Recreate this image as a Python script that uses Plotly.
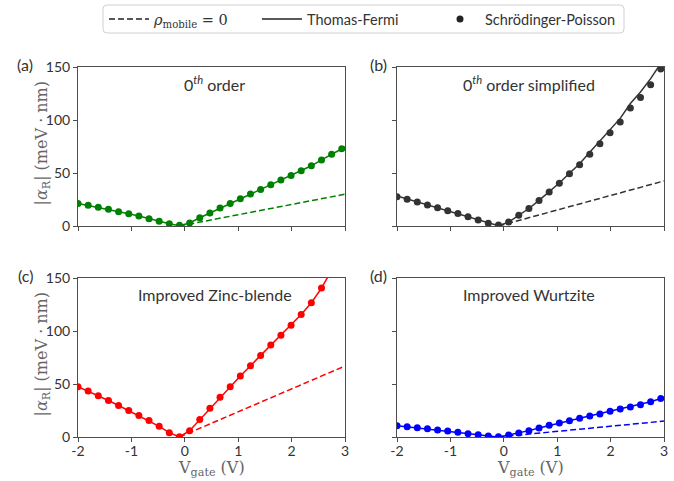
import plotly.graph_objects as go

# Gate voltages at which the Schrödinger-Poisson solutions were sampled (V)
V_GATE = [-2.00, -1.81, -1.62, -1.43, -1.24, -1.05, -0.86, -0.67, -0.48, -0.29,
          -0.10, 0.09, 0.28, 0.47, 0.66, 0.85, 1.04, 1.23, 1.42, 1.61,
          1.80, 1.99, 2.18, 2.37, 2.56, 2.75, 2.94]
V_END = 3.0

# |alpha_R| (meV nm), Schrödinger-Poisson
SP_A = [21.3, 19.5, 17.6, 15.7, 13.5, 11.6, 9.4, 6.9, 4.4, 2.2,
        0.6, 2.8, 7.8, 12.2, 16.9, 21.3, 25.7, 30.1, 34.5, 38.9,
        43.3, 47.7, 52.1, 56.8, 62.3, 67.6, 72.8]
SP_B = [27.7, 25.2, 22.7, 19.9, 17.3, 14.5, 11.7, 8.8, 5.7, 2.5,
        1.0, 3.8, 10.1, 16.4, 24.0, 32.1, 40.3, 49.2, 57.7, 67.8,
        77.5, 87.9, 98.0, 111.3, 121.3, 133.3, 148.1]
SP_C = [47.4, 43.3, 38.8, 34.4, 29.7, 24.9, 20.2, 15.5, 10.1, 4.1,
        0.3, 6.0, 16.4, 27.2, 37.6, 47.4, 57.5, 67.3, 77.0, 86.8,
        96.0, 105.5, 115.6, 126.6, 140.5]
SP_D = [10.7, 9.7, 8.8, 7.8, 6.6, 5.6, 4.4, 3.1, 2.2, 0.9,
        0.3, 1.9, 3.8, 6.0, 8.5, 11.0, 13.2, 15.4, 17.6, 19.8,
        21.7, 24.2, 26.4, 28.2, 30.4, 33.3, 36.4]

# |alpha_R| (meV nm), Thomas-Fermi (on V_GATE, last value at V_END)
TF_A = [21.3, 19.5, 17.6, 15.7, 13.5, 11.6, 9.4, 6.9, 4.4, 2.2,
        0.2, 2.8, 7.8, 12.2, 16.9, 21.3, 25.7, 30.1, 34.5, 38.9,
        43.3, 47.7, 52.1, 56.8, 62.3, 67.6, 72.8, 74.5]
TF_B = [28.3, 25.5, 22.9, 20.1, 17.4, 14.6, 11.8, 8.9, 5.9, 2.9,
        0.3, 3.6, 10.0, 16.5, 24.2, 32.3, 40.6, 49.7, 58.8, 69.5,
        80.0, 91.0, 101.5, 115.5, 126.5, 139.0, 153.5, 158.0]
TF_C = [47.4, 43.3, 38.8, 34.4, 29.7, 24.9, 20.2, 15.5, 10.1, 4.1,
        0.0, 6.0, 16.4, 27.2, 37.6, 47.4, 57.5, 67.3, 77.0, 86.8,
        96.0, 105.5, 115.6, 126.6, 140.5, 157.5]
TF_D = [10.7, 9.7, 8.8, 7.8, 6.6, 5.6, 4.4, 3.1, 2.2, 0.9,
        0.1, 1.9, 3.8, 6.0, 8.5, 11.0, 13.2, 15.4, 17.6, 19.8,
        21.7, 24.2, 26.4, 28.2, 30.4, 33.3, 36.4, 37.5]

# rho_mobile = 0: straight line from the minimum to V_END
V_NOMOB = [-0.10, 3.0]
NOMOB_A = [0.0, 30.0]
NOMOB_B = [0.0, 42.5]
NOMOB_C = [0.0, 67.0]
NOMOB_D = [0.0, 15.0]

PANELS = [
    dict(tag="(a)", title="0<sup><i>th</i></sup> order", color="#008000",
         sp=SP_A, tf=TF_A, nm=NOMOB_A),
    dict(tag="(b)", title="0<sup><i>th</i></sup> order simplified", color="#333333",
         sp=SP_B, tf=TF_B, nm=NOMOB_B),
    dict(tag="(c)", title="Improved Zinc-blende", color="#ff0000",
         sp=SP_C, tf=TF_C, nm=NOMOB_C),
    dict(tag="(d)", title="Improved Wurtzite", color="#0000ff",
         sp=SP_D, tf=TF_D, nm=NOMOB_D),
]

X_TICKS = [-2, -1, 0, 1, 2, 3]
X_TICKTEXT = ["-2", "-1", "0", "1", "2", "3"]
Y_TICKS = [0, 50, 100, 150]

W, H = 674, 481
ML, MR, MT, MB = 78, 10, 67, 44
PW, PH = W - ML - MR, H - MT - MB


def px(x):
    return (x - ML) / PW


def py(y):
    return (H - MB - y) / PH


SANS = "Lato"
SERIF = "DejaVu Serif"
TXT = "#333333"
AX = "#4d4d4d"
DASH = "6px,3px"

# panel boxes in pixels: (left, right, top, bottom)
BOXES = [(78, 345, 67, 226), (397, 664, 67, 226),
         (78, 345, 278, 437), (397, 664, 278, 437)]


def label(fig, x, y, text, font, angle=0):
    fig.add_annotation(x=px(x), y=py(y), xref="paper", yref="paper",
                       xanchor="center", yanchor="middle", text=text,
                       textangle=angle, showarrow=False, font=font)


fig = go.Figure()
for i, (p, box) in enumerate(zip(PANELS, BOXES)):
    xa = "x" if i == 0 else f"x{i + 1}"
    ya = "y" if i == 0 else f"y{i + 1}"
    v_line = (V_GATE + [V_END])[:len(p["tf"])]
    fig.add_trace(go.Scatter(x=V_NOMOB, y=p["nm"], mode="lines", xaxis=xa, yaxis=ya,
                             line=dict(color=p["color"], width=1.5, dash=DASH),
                             showlegend=False, hoverinfo="skip"))
    fig.add_trace(go.Scatter(x=v_line, y=p["tf"], mode="lines", xaxis=xa, yaxis=ya,
                             line=dict(color=p["color"], width=1.5),
                             showlegend=False))
    fig.add_trace(go.Scatter(x=V_GATE[:len(p["sp"])], y=p["sp"], mode="markers",
                             xaxis=xa, yaxis=ya,
                             marker=dict(color=p["color"], size=7, line=dict(width=0)),
                             showlegend=False))

    l, r, t, b = box
    axis_common = dict(showline=True, mirror=True, linecolor=AX, linewidth=1,
                       ticks="outside", ticklen=4, tickcolor=AX, tickwidth=1,
                       showgrid=False, zeroline=False, automargin=False,
                       tickfont=dict(family=SANS, size=14, color=TXT))
    fig.layout[f"xaxis{'' if i == 0 else i + 1}"] = dict(
        domain=[px(l), px(r)], range=[-2, 3], anchor=ya,
        tickvals=X_TICKS, ticktext=X_TICKTEXT, showticklabels=(i >= 2),
        ticklabelstandoff=-3, **axis_common)
    fig.layout[f"yaxis{'' if i == 0 else i + 1}"] = dict(
        domain=[py(b), py(t)], range=[0, 150], anchor=xa,
        tickvals=Y_TICKS, showticklabels=(i % 2 == 0),
        **axis_common)

    left_col = (i % 2 == 0)
    label(fig, (l + r) / 2 + (3 if left_col else -2), t + 16, p["title"],
          dict(family=SANS, size=16, color=TXT))
    label(fig, l - (53 if left_col else 19), t - 3, p["tag"],
          dict(family=SANS, size=16, color=TXT))
    if left_col:
        label(fig, 42, (t + b) / 2 - 3, "|<i>α</i><sub>R</sub>| (meV · nm)",
              dict(family=SERIF, size=16, color="#666666"), angle=-90)
    if i >= 2:
        label(fig, (l + r) / 2, 468, "V<sub>gate</sub> (V)",
              dict(family=SERIF, size=16, color="#666666"))

# legend frame with rounded corners
BX0, BX1, BY0, BY1, RAD = 103, 624, 5, 33, 4
frame = (f"M {px(BX0 + RAD)} {py(BY0)} L {px(BX1 - RAD)} {py(BY0)} "
         f"Q {px(BX1)} {py(BY0)} {px(BX1)} {py(BY0 + RAD)} "
         f"L {px(BX1)} {py(BY1 - RAD)} "
         f"Q {px(BX1)} {py(BY1)} {px(BX1 - RAD)} {py(BY1)} "
         f"L {px(BX0 + RAD)} {py(BY1)} "
         f"Q {px(BX0)} {py(BY1)} {px(BX0)} {py(BY1 - RAD)} "
         f"L {px(BX0)} {py(BY0 + RAD)} "
         f"Q {px(BX0)} {py(BY0)} {px(BX0 + RAD)} {py(BY0)} Z")
fig.add_shape(type="path", path=frame, xref="paper", yref="paper",
              line=dict(color="#d0d0d0", width=1), fillcolor="white", layer="below")

# legend entries, one legend per entry so each sits where it should
LEG_NAMES = [f'<span style="font-family:{SERIF}"><i>ρ</i><sub>mobile</sub> = 0</span>',
             "Thomas-Fermi", "Schrödinger-Poisson"]
fig.add_trace(go.Scatter(x=[None], y=[None], mode="lines", legend="legend",
                         line=dict(color="#222222", width=1.5, dash=DASH),
                         name=LEG_NAMES[0]))
fig.add_trace(go.Scatter(x=[None], y=[None], mode="lines", legend="legend2",
                         line=dict(color="#222222", width=1.5), name=LEG_NAMES[1]))
fig.add_trace(go.Scatter(x=[None], y=[None], mode="markers", legend="legend3",
                         marker=dict(color="#222222", size=7), name=LEG_NAMES[2]))

leg_common = dict(orientation="h", xanchor="left", yanchor="middle", y=py(19),
                  bgcolor="rgba(0,0,0,0)", borderwidth=0, itemwidth=40,
                  font=dict(family=SANS, size=14.5, color=TXT))

fig.update_layout(
    width=W, height=H, margin=dict(l=ML, r=MR, t=MT, b=MB, autoexpand=False),
    paper_bgcolor="white", plot_bgcolor="white",
    showlegend=True,
    legend=dict(x=px(104), **leg_common),
    legend2=dict(x=px(257), **leg_common),
    legend3=dict(x=px(435), **leg_common),
)

fig.write_html("out.html")
